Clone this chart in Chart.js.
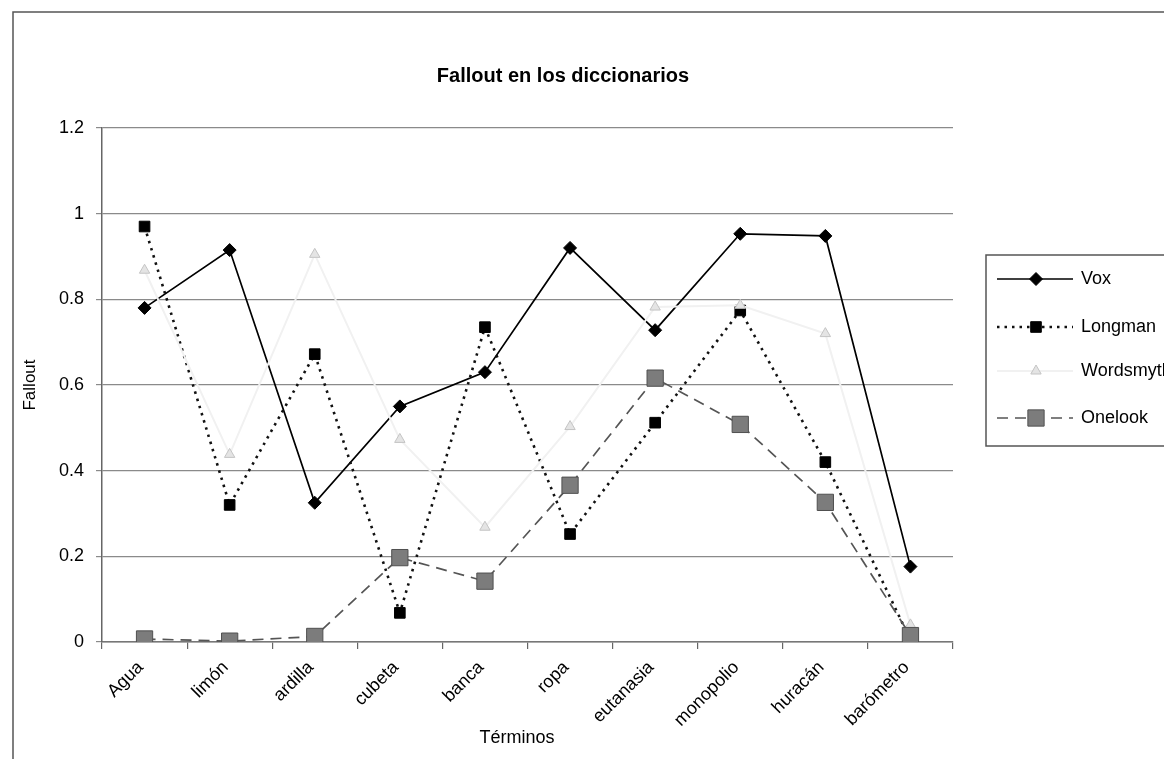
<!DOCTYPE html>
<html>
<head>
<meta charset="utf-8">
<script src="https://cdn.jsdelivr.net/npm/chart.js@4.4.1/dist/chart.umd.min.js"></script>
<style>
  html, body { margin: 0; padding: 0; background: #fff; }
  #wrap { width: 1164px; height: 759px; position: relative; }
</style>
</head>
<body>
<div id="wrap"><canvas id="c" width="1164" height="759"></canvas></div>
<script>
// Terms evaluated and fallout per dictionary
const terminos = ['Agua', 'limón', 'ardilla', 'cubeta', 'banca', 'ropa', 'eutanasia', 'monopolio', 'huracán', 'barómetro'];
const vox       = [0.780, 0.915, 0.325, 0.550, 0.630, 0.920, 0.728, 0.953, 0.948, 0.176];
const longman   = [0.970, 0.320, 0.672, 0.068, 0.735, 0.252, 0.512, 0.774, 0.420, 0.005];
const wordsmyth = [0.868, 0.438, 0.905, 0.473, 0.268, 0.503, 0.782, 0.786, 0.720, 0.040];
const onelook   = [0.007, 0.002, 0.013, 0.197, 0.142, 0.366, 0.616, 0.508, 0.326, 0.015];
const yTicks    = [0, 0.2, 0.4, 0.6, 0.8, 1, 1.2];

const FONT = "'Liberation Sans', Arial, sans-serif";

// Outer frame, title and legend box drawn around the plot
const decor = {
  id: 'decor',
  afterDraw(chart) {
    const ctx = chart.ctx;
    ctx.save();
    // frame
    ctx.strokeStyle = '#555';
    ctx.lineWidth = 1.5;
    ctx.strokeRect(13, 12, 1300, 900);
    // title
    ctx.fillStyle = '#000';
    ctx.font = 'bold 20px ' + FONT;
    ctx.textAlign = 'center';
    ctx.textBaseline = 'middle';
    ctx.fillText('Fallout en los diccionarios', 563, 76);
    // legend
    ctx.strokeStyle = '#555';
    ctx.lineWidth = 1.5;
    ctx.strokeRect(986, 255, 300, 191);
    const rows = [279, 327, 371, 418];
    chart.data.datasets.forEach((ds, i) => {
      const y = rows[i];
      ctx.save();
      ctx.strokeStyle = ds.borderColor;
      ctx.lineWidth = ds.borderWidth;
      ctx.setLineDash(ds.borderDash || []);
      ctx.beginPath();
      ctx.moveTo(997, y);
      ctx.lineTo(1073, y);
      ctx.stroke();
      ctx.setLineDash([]);
      ctx.fillStyle = ds.pointBackgroundColor;
      ctx.strokeStyle = ds.pointBorderColor;
      ctx.lineWidth = ds.pointBorderWidth;
      Chart.helpers.drawPoint(ctx, { pointStyle: ds.pointStyle, radius: ds.pointRadius, rotation: 0, borderWidth: ds.pointBorderWidth }, 1036, y);
      ctx.restore();
      ctx.fillStyle = '#000';
      ctx.font = '18px ' + FONT;
      ctx.textAlign = 'left';
      ctx.textBaseline = 'middle';
      ctx.fillText(ds.label, 1081, y);
    });
    // axis title under the categories
    ctx.font = '18px ' + FONT;
    ctx.textAlign = 'center';
    ctx.fillText('Términos', 517, 738);
    ctx.restore();
  }
};

new Chart(document.getElementById('c'), {
  type: 'line',
  data: {
    labels: terminos,
    datasets: [
      {
        label: 'Vox', data: vox, order: 4,
        borderColor: '#000', borderWidth: 1.7,
        pointStyle: 'rectRot', pointRadius: 6.5,
        pointBackgroundColor: '#000', pointBorderColor: '#000', pointBorderWidth: 1
      },
      {
        label: 'Longman', data: longman, order: 3,
        borderColor: '#111', borderWidth: 2.6, borderDash: [2.5, 5],
        pointStyle: 'rect', pointRadius: 7.5,
        pointBackgroundColor: '#000', pointBorderColor: '#000', pointBorderWidth: 1
      },
      {
        label: 'Wordsmyth', data: wordsmyth, order: 2,
        borderColor: '#f1f1f1', borderWidth: 2,
        pointStyle: 'triangle', pointRadius: 6,
        pointBackgroundColor: '#e4e4e4', pointBorderColor: '#c4c4c4', pointBorderWidth: 1
      },
      {
        label: 'Onelook', data: onelook, order: 1,
        borderColor: '#555', borderWidth: 1.7, borderDash: [11, 7],
        pointStyle: 'rect', pointRadius: 11.5,
        pointBackgroundColor: '#7c7c7c', pointBorderColor: '#505050', pointBorderWidth: 1
      }
    ]
  },
  options: {
    responsive: false,
    animation: false,
    events: [],
    layout: { padding: { left: 14, top: 128, right: 211, bottom: 0 } },
    elements: { line: { tension: 0, fill: false } },
    plugins: {
      legend: { display: false },
      title: { display: false },
      tooltip: { enabled: false }
    },
    scales: {
      x: {
        offset: true,
        afterFit(scale) { scale.height = 117; },
        grid: { offset: true, drawOnChartArea: false, drawTicks: true, tickLength: 7, color: '#666', lineWidth: 1.2 },
        border: { display: true, color: '#777', width: 1.5 },
        ticks: {
          autoSkip: false, maxRotation: 45, minRotation: 45,
          padding: 8, labelOffset: -4,
          color: '#000', font: { family: FONT, size: 18 }
        }
      },
      y: {
        min: 0, max: 1.2,
        afterFit(scale) { scale.width = 88; },
        afterBuildTicks(scale) { scale.ticks = yTicks.map(v => ({ value: v })); },
        grid: { drawTicks: true, tickLength: 6, color: '#8a8a8a', lineWidth: 1.2 },
        border: { display: true, color: '#666', width: 1.5 },
        ticks: {
          padding: 12, color: '#000',
          font: { family: FONT, size: 18 },
          callback: v => String(Math.round(v * 10) / 10)
        },
        title: {
          display: true, text: 'Fallout', color: '#000',
          font: { family: FONT, size: 17 }, padding: { top: 6, bottom: 0 }
        }
      }
    }
  },
  plugins: [decor]
});
</script>
</body>
</html>
